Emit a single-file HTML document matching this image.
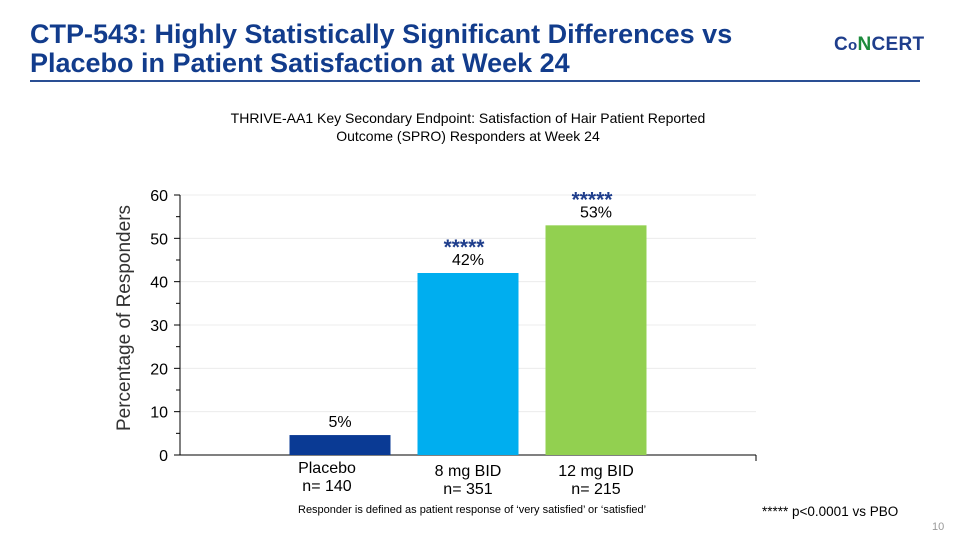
<!DOCTYPE html>
<html><head><meta charset="utf-8">
<style>
body{margin:0;width:960px;height:540px;background:#fff;font-family:"Liberation Sans",Arial,sans-serif;position:relative;overflow:hidden}
.t{position:absolute;white-space:nowrap}
</style></head>
<body>
<div class="t" style="left:30px;top:20px;font-size:27px;font-weight:bold;color:#123c8c;line-height:29px">CTP-543: Highly Statistically Significant Differences vs<br>Placebo in Patient Satisfaction at Week 24</div>
<div class="t" style="left:834px;top:34px;font-size:19px;font-weight:bold;letter-spacing:0.3px"><span style="color:#1f3e8c">C</span><span style="color:#1f3e8c;font-size:15px">o</span><span style="color:#1d8a3c">N</span><span style="color:#1f3e8c">CERT</span></div>
<div style="position:absolute;left:30px;top:80px;width:890px;height:2px;background:#2a4f94"></div>
<div class="t" style="left:0;width:936px;top:109px;text-align:center;font-size:14px;line-height:18px;color:#000">THRIVE-AA1 Key Secondary Endpoint: Satisfaction of Hair Patient Reported<br>Outcome (SPRO) Responders at Week 24</div>
<svg id="chart" width="960" height="540" style="position:absolute;left:0;top:0"></svg>
<div class="t" style="left:298px;top:504px;font-size:11px">Responder is defined as patient response of ‘very satisfied’ or ‘satisfied’</div>
<div class="t" style="left:762px;top:504px;font-size:13.5px">***** p&lt;0.0001 vs PBO</div>
<div class="t" style="left:932px;top:521px;font-size:11px;color:#999">10</div>
<script>
const categories=["Placebo","8 mg BID","12 mg BID"];
const nLabels=["n= 140","n= 351","n= 215"];
const values=[4.6,42,53];
const valueLabels=["5%","42%","53%"];
const stars=["","*****","*****"];
const colors=["#0a3a94","#00aeef","#92d050"];
const yTicks=[0,10,20,30,40,50,60];
const NS="http://www.w3.org/2000/svg";
const svg=document.getElementById('chart');
const x0=180,x1=756,yB=455,yT=195,yMax=60;
const y=v=>yB-(v/yMax)*(yB-yT);
const slotW=128,firstC=340;
const xc=i=>firstC+i*slotW;
function mk(t,a){const e=document.createElementNS(NS,t);for(const k in a)e.setAttribute(k,a[k]);svg.appendChild(e);return e;}
yTicks.forEach(v=>{
 if(v>0){const g=mk('line',{x1:x0,x2:x1,y1:y(v),y2:y(v),stroke:'#ececec','stroke-width':1});
 
 }
 const tk=mk('line',{x1:x0-6,x2:x0,y1:y(v),y2:y(v),stroke:'#000'});
 
 
 const mt=mk('line',{x1:x0-4,x2:x0,y1:y(v+5),y2:y(v+5),stroke:'#000'});
 if(v===60)mt.remove();
 const tx=mk('text',{x:x0-12,y:y(v)+6,'text-anchor':'end','font-size':16,fill:'#000'});
 tx.textContent=v;
 
 
});
const ax=mk('line',{x1:x0,x2:x0,y1:yT,y2:yB,stroke:'#000'});


const bx=mk('line',{x1:x0,x2:x1,y1:yB,y2:yB,stroke:'#000'});


mk('line',{x1:x1,x2:x1,y1:yB,y2:yB+6,stroke:'#000'});
const yl=mk('text',{x:0,y:0,transform:'translate(130,318) rotate(-90)','text-anchor':'middle','font-size':19,fill:'#333'});
yl.textContent='Percentage of Responders';


values.forEach((v,i)=>{
 const c=xc(i),w=101;
 const r=mk('rect',{x:c-w/2,y:y(v),width:w,height:yB-y(v),fill:colors[i]});
 
 
 const vl=mk('text',{x:c,y:y(v)-8,'text-anchor':'middle','font-size':16,fill:'#000'});
 vl.textContent=valueLabels[i];
 
 
 if(stars[i]){const s=mk('text',{x:c-4,y:y(v)-19,'text-anchor':'middle','font-size':21,'font-weight':'bold',fill:'#1f3e8c'});
 s.textContent=stars[i];
 
 }
 const cl=mk('text',{x:c+(i===0?-13:0),y:yB+18+(i===0?0:3),'text-anchor':'middle','font-size':16,fill:'#000'});
 cl.textContent=categories[i];
 
 
 const nl=mk('text',{x:c+(i===0?-13:0),y:yB+36+(i===0?0:3),'text-anchor':'middle','font-size':16,fill:'#000'});
 nl.textContent=nLabels[i];
 
 
});
</script>
</body></html>
